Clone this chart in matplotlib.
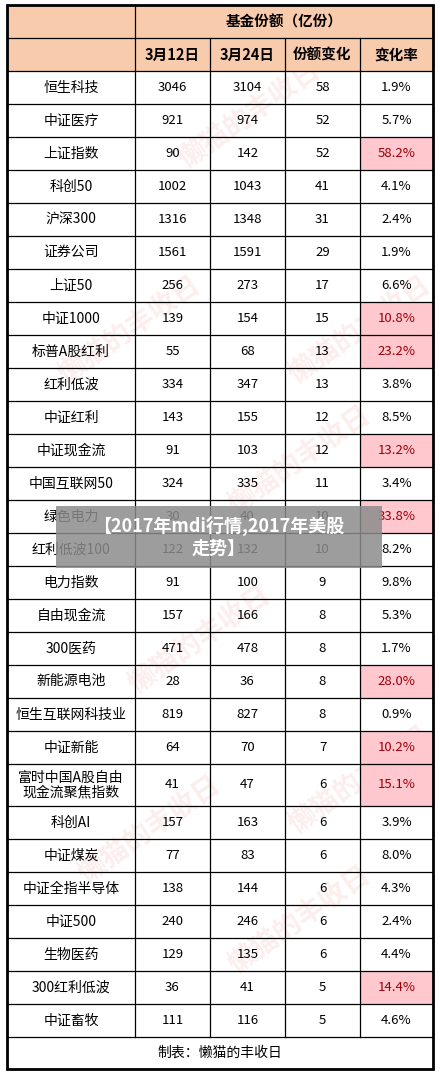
import matplotlib
matplotlib.use("Agg")
import matplotlib.pyplot as plt
from matplotlib.patches import Rectangle

plt.rcParams['font.family'] = ['Noto Sans CJK SC', 'DejaVu Sans']

names = ["恒生科技","中证医疗","上证指数","科创50","沪深300","证券公司","上证50","中证1000",
         "标普A股红利","红利低波","中证红利","中证现金流","中国互联网50","绿色电力","红利低波100",
         "电力指数","自由现金流","300医药","新能源电池","恒生互联网科技业","中证新能",
         "富时中国A股自由\n现金流聚焦指数","科创AI","中证煤炭","中证全指半导体","中证500","生物医药",
         "300红利低波","中证畜牧"]
mar12 = [3046,921,90,1002,1316,1561,256,139,55,334,143,91,324,30,122,91,157,471,28,819,64,41,157,77,138,240,129,36,111]
mar24 = [3104,974,142,1043,1348,1591,273,154,68,347,155,103,335,40,132,100,166,478,36,827,70,47,163,83,144,246,135,41,116]
change = [58,52,52,41,31,29,17,15,13,13,12,12,11,10,10,9,8,8,8,8,7,6,6,6,6,6,6,5,5]
rate = [1.9,5.7,58.2,4.1,2.4,1.9,6.6,10.8,23.2,3.8,8.5,13.2,3.4,33.8,8.2,9.8,5.3,1.7,28.0,0.9,10.2,15.1,3.9,8.0,4.3,2.4,4.4,14.4,4.6]
subheads = ["3月12日","3月24日","份额变化","变化率"]

W, H = 440, 1075
fig = plt.figure(figsize=(W/100, H/100), dpi=100)
ax = fig.add_axes([0, 0, 1, 1])
ax.set_xlim(0, W); ax.set_ylim(H, 0); ax.axis('off')

cols = [7, 135, 210, 285, 360, 433]
head_bg = '#F8CBAD'
lw = 0.9

# watermarks
for (wx, wy) in [(250, 115), (360, 330), (130, 330), (300, 460), (200, 640), (360, 780), (150, 830), (300, 920)]:
    ax.text(wx, wy, "懒猫的丰收日", fontsize=20, color='#F4A0A0', alpha=0.18, rotation=35,
            ha='center', va='center', fontweight='bold', zorder=1)

# header
ax.add_patch(Rectangle((cols[0], 5), cols[-1]-cols[0], 66, facecolor=head_bg, edgecolor='black', lw=lw, zorder=2))
ax.plot([cols[1], cols[1]], [5, 71], color='black', lw=lw, zorder=3)
ax.plot([cols[1], cols[-1]], [38, 38], color='black', lw=lw, zorder=3)
ax.plot([cols[0], cols[1]], [38, 38], color='black', lw=lw, zorder=3)
for c in cols[2:-1]:
    ax.plot([c, c], [38, 71], color='black', lw=lw, zorder=3)
ax.text((cols[1]+cols[-1])/2, 21.5, "基金份额（亿份）", ha='center', va='center', fontsize=10.5, fontweight='bold', zorder=4)
for i, s in enumerate(subheads):
    ax.text((cols[i+1]+cols[i+2])/2, 54.5, s, ha='center', va='center', fontsize=10.5, fontweight='bold', zorder=4)

y = 71
for i, n in enumerate(names):
    h = 42 if '\n' in n else 33
    if rate[i] > 10:
        ax.add_patch(Rectangle((cols[4], y), cols[5]-cols[4], h, facecolor='#FFC7CE', edgecolor='none', zorder=2))
    ax.plot([cols[0], cols[-1]], [y+h, y+h], color='black', lw=lw, zorder=3)
    cy = y + h/2
    ax.text((cols[0]+cols[1])/2, cy, n, ha='center', va='center', fontsize=10, linespacing=1.1, zorder=4)
    vals = [str(mar12[i]), str(mar24[i]), str(change[i]), f"{rate[i]:.1f}%"]
    for j, v in enumerate(vals):
        col = '#9C0006' if (j == 3 and rate[i] > 10) else 'black'
        ax.text((cols[j+1]+cols[j+2])/2, cy, v, ha='center', va='center', fontsize=9.5, color=col, zorder=4)
    y += h
for c in cols[1:-1]:
    ax.plot([c, c], [71, y], color='black', lw=lw, zorder=3)
# footer
ax.text((cols[0]+cols[-1])/2, y + 16, "制表：懒猫的丰收日", ha='center', va='center', fontsize=10, zorder=4)
ax.add_patch(Rectangle((cols[0], 5), cols[-1]-cols[0], y+32-5, facecolor='none', edgecolor='black', lw=2, zorder=5))

# overlay banner
ax.add_patch(Rectangle((56, 506), 326, 62, facecolor='#8C8C8C', alpha=0.85, edgecolor='none', zorder=6))
ax.text(219, 537, "【2017年mdi行情,2017年美股\n走势】", ha='center', va='center', fontsize=13,
        fontweight='bold', color='white', linespacing=1.2, zorder=7)

fig.savefig("out.png", dpi=100, facecolor='white')
